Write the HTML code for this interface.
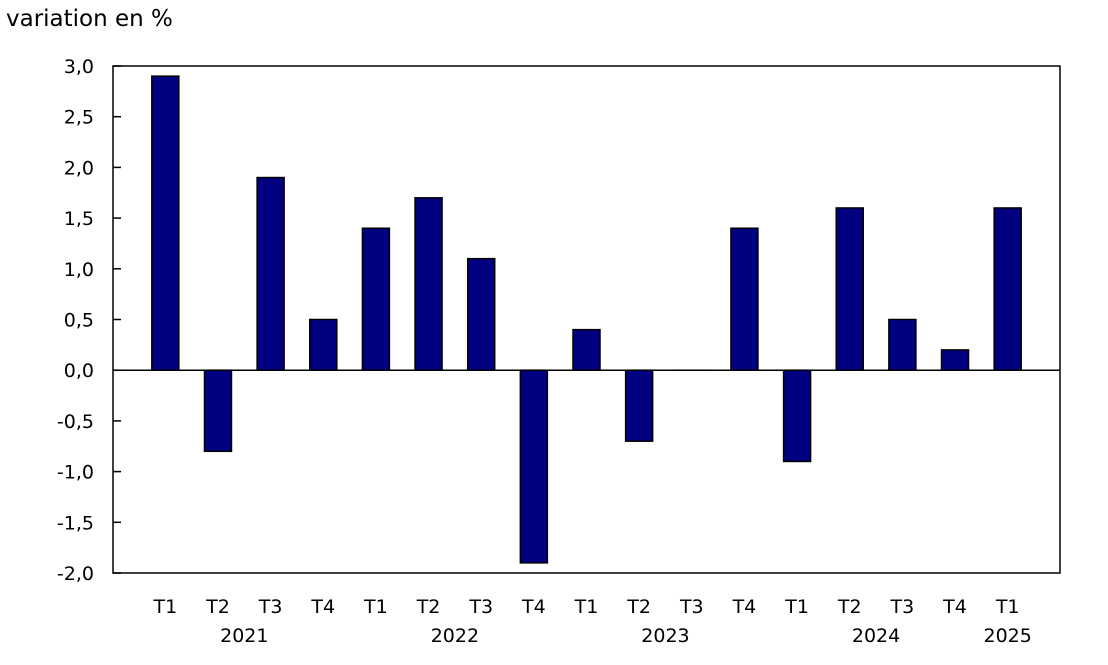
<!DOCTYPE html>
<html><head><meta charset="utf-8"><style>
body{margin:0;background:#fff;}
svg text{font-family:"DejaVu Sans","Liberation Sans",sans-serif;font-size:19px;fill:#000;}
</style></head><body>
<svg id="chart" width="1108" height="660" xmlns="http://www.w3.org/2000/svg">
<text x="6" y="26" style="font-size:23px">variation en %</text>
<g id="plot"></g>
</svg>
<script>
const quarters=["T1","T2","T3","T4","T1","T2","T3","T4","T1","T2","T3","T4","T1","T2","T3","T4","T1"];
const values=[2.9,-0.8,1.9,0.5,1.4,1.7,1.1,-1.9,0.4,-0.7,0.0,1.4,-0.9,1.6,0.5,0.2,1.6];
const years=["2021","2022","2023","2024","2025"];
const yearCenters=[1.5,5.5,9.5,13.5,16];
const yTicks=[3,2.5,2,1.5,1,0.5,0,-0.5,-1,-1.5,-2];
const NS="http://www.w3.org/2000/svg";
const g=document.getElementById('plot');
const L=113,R=1060,T=66,B=573,yMin=-2,yMax=3;
const pad=26,slot=(R-L-2*pad)/quarters.length,bw=27;
const y=v=>T+(yMax-v)/(yMax-yMin)*(B-T);
const xc=i=>L+pad+slot*(i+0.5);
function el(tag,attrs){const e=document.createElementNS(NS,tag);for(const k in attrs)e.setAttribute(k,attrs[k]);g.appendChild(e);return e;}
const frame=el('rect',{x:L,y:T,width:R-L,height:B-T,fill:'none',stroke:'#000','stroke-width':1.5});


yTicks.forEach(v=>{
  const t=el('line',{x1:L,x2:L+8,y1:y(v),y2:y(v),stroke:'#000','stroke-width':1.5});
  
  
  const lb=el('text',{x:94,y:y(v)+7,'text-anchor':'end'});
  lb.textContent=v.toFixed(1).replace('.',',');
  
  
});
values.forEach((v,i)=>{
  const top=Math.min(y(v),y(0)),h=Math.abs(y(v)-y(0));
  const b=el('rect',{x:xc(i)-bw/2,y:top,width:bw,height:Math.max(h,0.01),fill:'#000080',stroke:'#000','stroke-width':1.5});
  
  
  const lb=el('text',{x:xc(i),y:613,'text-anchor':'middle'});
  lb.textContent=quarters[i];
  
  
});
const z=el('line',{x1:L,x2:R,y1:y(0),y2:y(0),stroke:'#000','stroke-width':1.5});


years.forEach((yr,i)=>{
  const lb=el('text',{x:xc(yearCenters[i]),y:642,'text-anchor':'middle'});
  lb.textContent=yr;
  
  
});
</script>
</body></html>
